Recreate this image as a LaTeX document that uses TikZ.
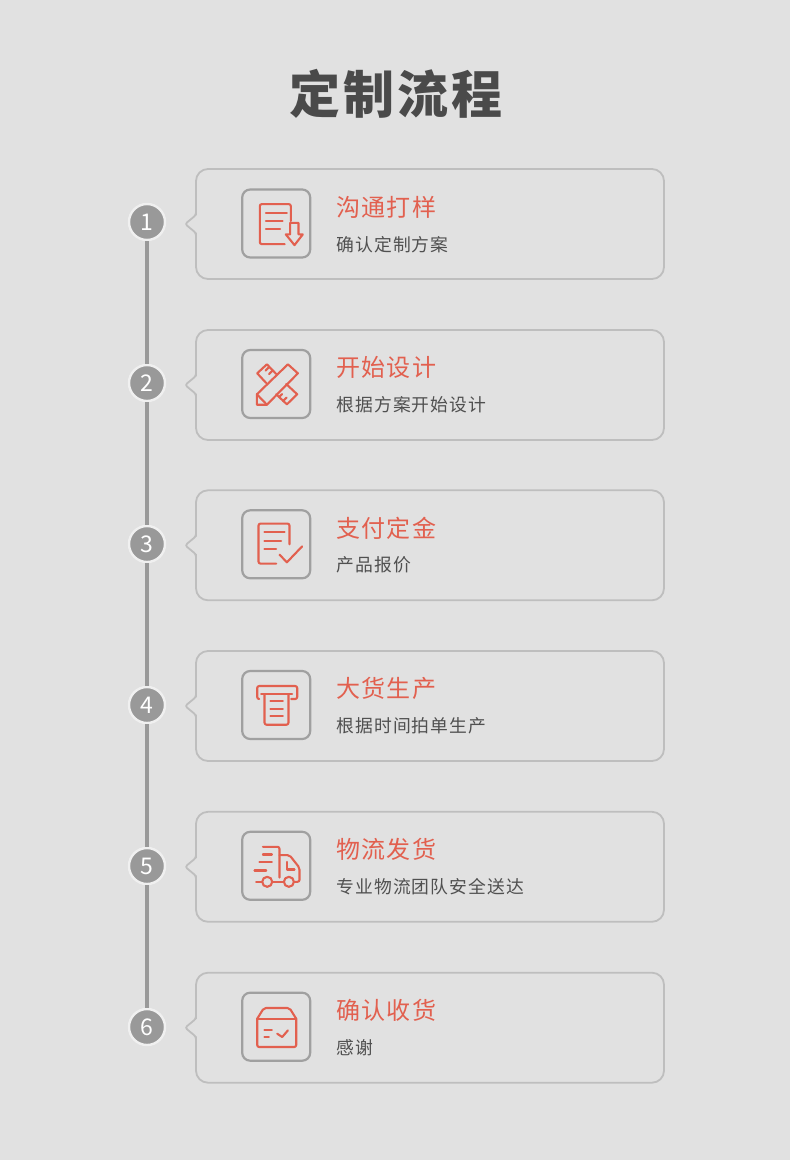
\documentclass[tikz,border=0pt]{standalone}
\usepackage{fontspec}
\usepackage{xcolor}
\usetikzlibrary{positioning,calc}
\newfontfamily\titlefont[LetterSpace=6]{Noto Sans CJK SC}
\newfontfamily\headfont[LetterSpace=5]{Noto Sans CJK SC}
\newfontfamily\subfont[LetterSpace=6]{Noto Sans CJK SC}
\newfontfamily\numfont{Noto Sans CJK SC}
\definecolor{pagebg}{HTML}{E1E1E1}
\definecolor{titlegray}{HTML}{4A4A4A}
\definecolor{subgray}{HTML}{505050}
\definecolor{railgray}{HTML}{999999}
\definecolor{boxgray}{HTML}{A0A0A0}
\definecolor{cardgray}{HTML}{BEBEBE}
\definecolor{ringwhite}{HTML}{F0F0F0}
\definecolor{iconred}{HTML}{E2604F}
\begin{document}
\begin{tikzpicture}[x=1pt, y=-1pt, node distance=122.6pt,
    stepnum/.style={circle, draw=ringwhite, fill=railgray, line width=2.4pt, minimum size=36pt, inner sep=0pt,
      text=white, font=\numfont\fontsize{23}{26}\selectfont},
    rail/.style={draw=railgray, line width=3.5pt},
    card/.style={draw=cardgray, line width=1.8pt, rounded corners=12pt, minimum width=468pt, minimum height=110pt, inner sep=0pt},
    cardnotch/.pic={
      \fill[pagebg] (2,-9) -- (-10,0) -- (2,9) -- cycle;
      \draw[draw=cardgray, line width=1.8pt, rounded corners=2.5pt] (0.9,-13) -- (0.9,-9) -- (-10,0) -- (0.9,9) -- (0.9,13);
    },
    iconbox/.style={draw=boxgray, line width=2.2pt, rounded corners=8pt, minimum size=68pt, inner sep=0pt},
    icon/.style={draw=iconred, line width=2.1pt, line join=round, line cap=round},
    headtext/.style={text=iconred, inner sep=0pt, font=\headfont\fontsize{24}{28}\selectfont},
    subtext/.style={text=subgray, inner sep=0pt, font=\subfont\fontsize{17.8}{21}\selectfont}]

  \useasboundingbox (0,0) rectangle (790,1160);
  \fill[pagebg] (0,0) rectangle (790,1160);

  % Define nodes
  \node (title) at (396,94) [text=titlegray, font=\titlefont\bfseries\fontsize{51}{60}\selectfont] {定制流程};

  \node (N1) at (147,222) [stepnum] {1};
  \node (N2) [stepnum, below=of N1] {2};
  \node (N3) [stepnum, below=of N2] {3};
  \node (N4) [stepnum, below=of N3] {4};
  \node (N5) [stepnum, below=of N4] {5};
  \node (N6) [stepnum, below=of N5] {6};

  \node (C1) [card, right=28.9pt of N1, yshift=-2pt] {};
  \node (C2) [card, right=28.9pt of N2, yshift=-2pt] {};
  \node (C3) [card, right=28.9pt of N3, yshift=-1.3pt] {};
  \node (C4) [card, right=28.9pt of N4, yshift=-1pt] {};
  \node (C5) [card, right=28.9pt of N5, yshift=-0.8pt] {};
  \node (C6) [card, right=28.9pt of N6, yshift=-0.7pt] {};

  \node (B1) [iconbox, right=46pt of C1.west, yshift=0.5pt] {};
  \node (B2) [iconbox, right=46pt of C2.west, yshift=1pt] {};
  \node (B3) [iconbox, right=46pt of C3.west, yshift=1pt] {};
  \node (B4) [iconbox, right=46pt of C4.west, yshift=1pt] {};
  \node (B5) [iconbox, right=46pt of C5.west, yshift=1pt] {};
  \node (B6) [iconbox, right=46pt of C6.west, yshift=1pt] {};

  \node (H1) [headtext, right=25pt of B1.east, yshift=16.3pt] {沟通打样};
  \node (H2) [headtext, right=25pt of B2.east, yshift=16.3pt] {开始设计};
  \node (H3) [headtext, right=25pt of B3.east, yshift=16.3pt] {支付定金};
  \node (H4) [headtext, right=25pt of B4.east, yshift=16.3pt] {大货生产};
  \node (H5) [headtext, right=25pt of B5.east, yshift=16.3pt] {物流发货};
  \node (H6) [headtext, right=25pt of B6.east, yshift=16.3pt] {确认收货};

  \node (S1) [subtext, right=25pt of B1.east, yshift=-20.8pt] {确认定制方案};
  \node (S2) [subtext, right=25pt of B2.east, yshift=-20.8pt] {根据方案开始设计};
  \node (S3) [subtext, right=25pt of B3.east, yshift=-20.8pt] {产品报价};
  \node (S4) [subtext, right=25pt of B4.east, yshift=-20.8pt] {根据时间拍单生产};
  \node (S5) [subtext, right=25pt of B5.east, yshift=-20.8pt] {专业物流团队安全送达};
  \node (S6) [subtext, right=25pt of B6.east, yshift=-20.8pt] {感谢};

  % Draw rail
  \draw[rail] (N1) -- (N2);
  \draw[rail] (N2) -- (N3);
  \draw[rail] (N3) -- (N4);
  \draw[rail] (N4) -- (N5);
  \draw[rail] (N5) -- (N6);

  % Card notches
  \pic at (C1.west) {cardnotch};
  \pic at (C2.west) {cardnotch};
  \pic at (C3.west) {cardnotch};
  \pic at (C4.west) {cardnotch};
  \pic at (C5.west) {cardnotch};
  \pic at (C6.west) {cardnotch};

  % Icons
  \begin{scope}[shift={($(B1.center)+(0.6,0.6)$)}, icon]
    \draw[rounded corners=2pt] (14,-3) -- (14,-20) -- (-17,-20) -- (-17,20) -- (8,20);
    \draw (-11,-11.3) -- (10,-11.3);
    \draw (-11,-3) -- (5.7,-3);
    \draw (-11,5.3) -- (3.3,5.3);
    \draw (13.3,-1.3) -- (21.7,-1.3) -- (21.7,10.3) -- (26,10.3) -- (17.7,21) -- (9,10.3) -- (13.3,10.3) -- cycle;
  \end{scope}

  \begin{scope}[shift={(B2.center)}, icon]
    \draw (-19.3,10.3) -- (11.7,-19.7) -- (21.7,-10.7) -- (-9.3,20.7) -- (-19.3,20.7) -- cycle;
    \draw (-19.3,10.3) -- (-9.3,20.7);
    \draw (0,-10) -- (-9.3,-19.7) -- (-19,-10.7) -- (-10,-1);
    \draw (-7,-17) -- (-10.5,-13.5);
    \draw (-3.5,-13.5) -- (-7,-10);
    \draw (10,0) -- (21,10.3) -- (10.7,20.3) -- (0,10.3);
    \draw (3,13) -- (6,10);
    \draw (7,17) -- (10.5,13.5);
  \end{scope}

  \begin{scope}[shift={(B3.center)}, icon]
    \draw[rounded corners=2pt] (13.3,0) -- (13.3,-20.7) -- (-17.7,-20.7) -- (-17.7,19.3) -- (0,19.3);
    \draw (-11.7,-12) -- (8.3,-12);
    \draw (-11.7,-3.7) -- (5,-3.7);
    \draw (-11.7,4.7) -- (0,4.7);
    \draw (3.3,10.3) -- (10.7,18) -- (26,2);
  \end{scope}

  \begin{scope}[shift={(B4.center)}, icon]
    \draw[rounded corners=2pt] (-17,-6) -- (-19,-6) -- (-19,-19) -- (21,-19) -- (21,-6) -- (15,-6);
    \draw (-15,-10.7) -- (16,-10.7);
    \draw[rounded corners=2pt] (-11.7,-10.7) -- (-11.7,19.7) -- (12.3,19.7) -- (12.3,-10.7);
    \draw (-5.7,-4) -- (6.7,-4);
    \draw (-5.7,3.7) -- (6.7,3.7);
    \draw (-5.7,11.3) -- (6.7,11.3);
  \end{scope}

  \begin{scope}[shift={(B5.center)}, icon]
    \draw[rounded corners=2pt] (-13.3,-19) -- (3.3,-19) -- (3.3,11.7);
    \draw[rounded corners=2pt] (3.3,-10.7) -- (13.3,-10.7) -- (23.3,2) -- (23.3,16) -- (17.7,16);
    \draw (-9,16) circle (5);
    \draw (12.7,16) circle (5);
    \draw (-4,16) -- (7.7,16);
    \draw (-20,16) -- (-14,16);
    \draw (-13.3,-11.3) -- (-4.3,-11.3);
    \draw (-16.7,-3.7) -- (-4.3,-3.7);
    \draw (-21.7,4.7) -- (-10,4.7);
    \draw (10.7,-4) -- (10.7,3.7) -- (18.3,3.7);
  \end{scope}

  \begin{scope}[shift={(B6.center)}, icon]
    \draw[rounded corners=2pt] (-19,-8) -- (-19,20.3) -- (20,20.3) -- (20,-8);
    \draw[rounded corners=2pt] (-19,-8) -- (-12.3,-18.7) -- (13.3,-18.7) -- (20,-8);
    \draw (-19,-8) -- (20,-8);
    \draw (-11.7,3.7) -- (-4.3,3.7);
    \draw (-11.7,10.3) -- (-7.3,10.3);
    \draw (1,7) -- (6,10.3) -- (11.7,3.7);
  \end{scope}
\end{tikzpicture}
\end{document}
